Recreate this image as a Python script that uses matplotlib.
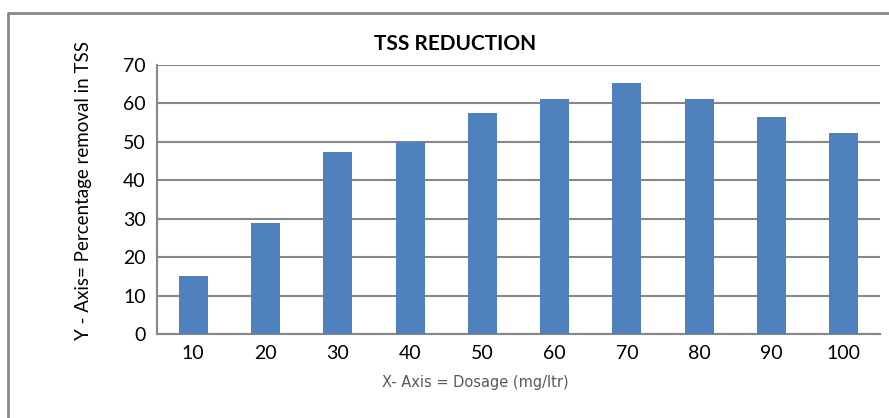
import numpy as np
import matplotlib.pyplot as plt
from matplotlib.lines import Line2D

dosage = ["10", "20", "30", "40", "50", "60", "70", "80", "90", "100"]
removal = [15, 29, 47.4, 50, 57.5, 61.2, 65.3, 61.2, 56.5, 52.3]

plt.rcParams['font.family'] = ['Lato', 'DejaVu Sans']

fig = plt.figure(figsize=(8.89, 4.18), dpi=100)
# outer frame of the chart box (top and left edges only are visible)
fig.add_artist(Line2D([8/889, 8/889, 1.0], [0.0, 1-13/418, 1-13/418],
                      transform=fig.transFigure, color="#888888", linewidth=2))

ax = fig.add_axes([157/889, 1-334/418, (880-157)/889, (334-65)/418])
x = np.arange(len(dosage))
ax.bar(x, removal, width=0.4, color="#4f81bd", zorder=3)
ax.set_xlim(-0.5, len(dosage)-0.5)
ax.set_ylim(0, 70)
ax.set_yticks(range(0, 71, 10))
ax.set_xticks(x)
ax.set_xticklabels(dosage)
ax.grid(axis="y", color="#878787", linewidth=1.5, zorder=0)
ax.tick_params(length=0, labelsize=14, pad=8)
for s in ["top", "right"]:
    ax.spines[s].set_visible(False)
ax.spines["left"].set_color("#878787")
ax.spines["bottom"].set_color("#878787")
ax.spines["left"].set_linewidth(1.5)
ax.spines["bottom"].set_linewidth(1.5)

fig.text(455/889, 1-44/418, "TSS REDUCTION", ha="center", va="center",
         fontsize=15, fontweight="bold")
fig.text(475/889, 1-383/418, "X- Axis = Dosage (mg/ltr)", ha="center", va="center",
         fontsize=10.5, color="#595959", family="DejaVu Sans")
fig.text(84/889, 1-190/418, "Y - Axis= Percentage removal in TSS", ha="center", va="center",
         rotation=90, fontsize=13.5)

fig.savefig("out.png", dpi=100)
